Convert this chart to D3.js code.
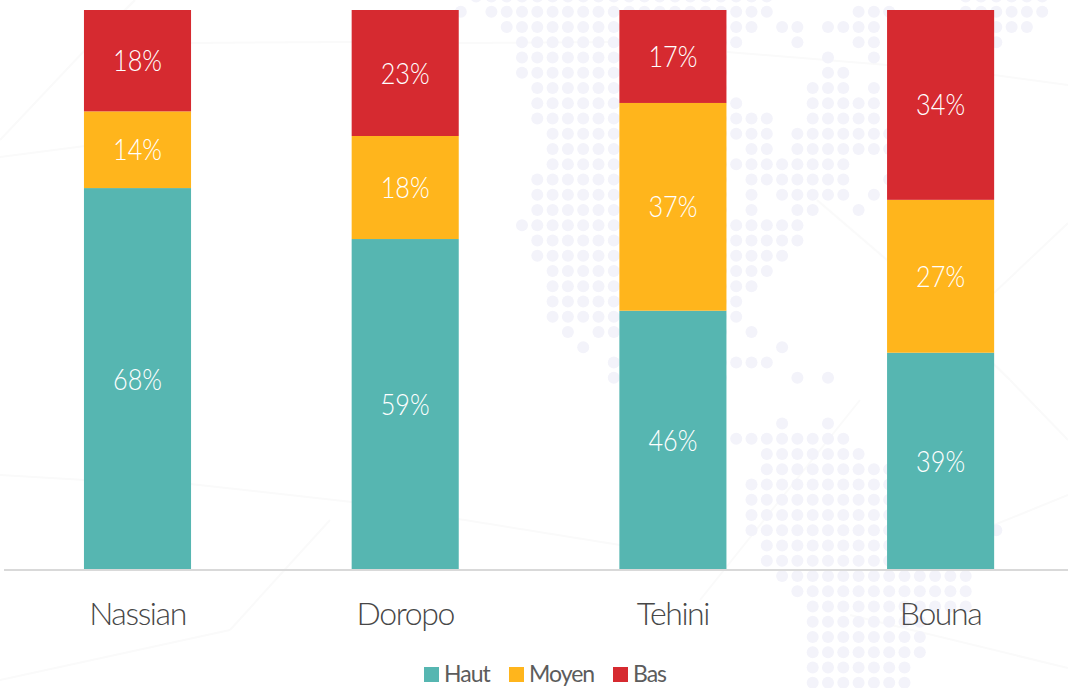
<!DOCTYPE html>
<html><head><meta charset="utf-8">
<script src="https://cdn.jsdelivr.net/npm/d3@7"></script>
<style>
html,body{margin:0;padding:0;background:#fff;overflow:hidden}
svg{display:block}
text{font-family:Lato,"Open Sans",sans-serif}
</style></head><body>
<svg id="c" width="1068" height="688"></svg>
<script>
const categories = ["Nassian","Doropo","Tehini","Bouna"];
const seriesNames = ["Haut","Moyen","Bas"];
const haut  = [68.2,59.1,46.3,38.8];
const moyen = [13.7,18.4,37.1,27.3];
const bas   = [18.1,22.5,16.6,33.9];
const colors = ["#56b6b1","#ffb51c","#d62a30"];
// decorative dot-map background: [row, firstCol, lastCol] runs on a regular grid
const mapRuns = [
[-1,-3,16],[-1,29,34],
[0,-4,-4],[0,-2,16],[0,22,24],[0,29,34],
[1,-1,15],[1,17,18],[1,20,23],[1,31,33],
[2,0,14],[2,18,18],[2,22,23],[2,31,31],
[3,0,13],[3,20,20],[3,23,23],
[4,0,13],[4,20,21],
[5,1,13],[5,19,21],[5,23,23],
[6,1,14],[6,19,23],
[7,1,16],[7,19,23],
[8,2,16],[8,18,24],
[9,2,13],[9,15,16],[9,18,24],
[10,2,21],
[11,1,13],[11,15,21],[11,24,24],
[12,1,13],[12,15,15],[12,17,21],[12,23,23],
[13,1,13],[13,15,15],[13,18,19],[13,22,22],
[14,0,18],[15,1,18],[16,1,17],[17,2,16],[18,2,15],[19,2,14],[20,2,14],
[21,3,3],[21,5,13],[21,15,15],[22,4,4],[22,17,17],
[23,6,16],[24,6,13],[24,18,18],[24,20,20],
[27,17,17],[27,20,20],[28,14,21],[29,16,22],[30,16,24],[31,15,24],[32,15,24],[33,15,24],[34,15,24],[34,31,31],
[35,16,24],[36,16,24],[37,17,29],[38,18,29],[39,19,29],[40,19,26],[41,19,26],[42,19,26],[43,19,25],[44,19,25]
];
const faintLines = [
[0,157,85,146],[0,140,85,50],[85,50,135,0],[190,43,352,42],[459,43,620,42],[727,52,887,65],[994,75,1068,85],
[0,475,85,480],[190,484,352,502],[352,502,620,545],
[0,680,230,630],[230,630,330,520],[700,600,860,400],[817,200,887,260],[887,260,1010,380],[1010,380,1068,440],
[994,293,1068,223],[994,525,1068,495],[850,615,1068,668]
];

const svg = d3.select("#c");
const dotX = d3.scaleLinear().domain([0,1]).range([522,537.3]);
const dotY = d3.scaleLinear().domain([0,1]).range([11.7,26.95]);

svg.append("g").selectAll("line").data(faintLines).join("line")
  .attr("x1",d=>d[0]).attr("y1",d=>d[1]).attr("x2",d=>d[2]).attr("y2",d=>d[3])
  .attr("stroke","#fafafa").attr("stroke-width",2);

const dots = mapRuns.flatMap(([r,a,b])=>d3.range(a,b+1).map(c=>({r,c})));
svg.append("g").selectAll("circle").data(dots).join("circle")
  .attr("cx",d=>dotX(d.c)).attr("cy",d=>dotY(d.r)).attr("r",6).attr("fill","#f3f3fa");

const x = d3.scaleBand().domain(categories).range([3.65,1074.45]).paddingInner(.6).paddingOuter(.3);
const y = d3.scaleLinear().domain([0,100]).range([570,10]);

const rows = categories.map((k,i)=>({k,Haut:haut[i],Moyen:moyen[i],Bas:bas[i]}));
const stacked = d3.stack().keys(seriesNames)(rows);

const g = svg.append("g").selectAll("g").data(stacked).join("g").attr("fill",(d,i)=>colors[i]);
g.selectAll("rect").data(d=>d).join("rect")
  .attr("x",d=>x(d.data.k)).attr("width",x.bandwidth())
  .attr("y",d=>y(d[1])).attr("height",d=>y(d[0])-y(d[1]));

const lab = svg.append("g").selectAll("g").data(stacked).join("g");
lab.selectAll("text").data(d=>d).join("text")
  .attr("x",d=>x(d.data.k)+x.bandwidth()/2)
  .attr("y",d=>(y(d[0])+y(d[1]))/2+10.5)
  .attr("text-anchor","middle").attr("fill","#fff")
  .attr("font-size",30).attr("font-weight",300)
  .attr("textLength",49).attr("lengthAdjust","spacingAndGlyphs")
  .text(d=>Math.round(d[1]-d[0])+"%");

const axis = svg.append("g").attr("transform","translate(0,570)")
  .call(d3.axisBottom(x).tickSize(0).tickPadding(32));
axis.select(".domain").attr("stroke","#d9d9d9").attr("stroke-width",2).attr("d","M4,0H1068");
axis.selectAll("text").attr("font-size",32).attr("font-family","Lato,sans-serif")
  .attr("font-weight",300).attr("fill","#474747").attr("letter-spacing",-1.4);

const legX = [424,509,613];
const leg = svg.append("g").selectAll("g").data(seriesNames).join("g")
  .attr("transform",(d,i)=>`translate(${legX[i]},667)`);
leg.append("rect").attr("width",15).attr("height",15).attr("fill",(d,i)=>colors[i]);
leg.append("text").attr("x",20).attr("y",15).attr("font-size",23).attr("fill","#5c5c5c")
  .attr("letter-spacing",-1).text(d=>d);
</script></body></html>
